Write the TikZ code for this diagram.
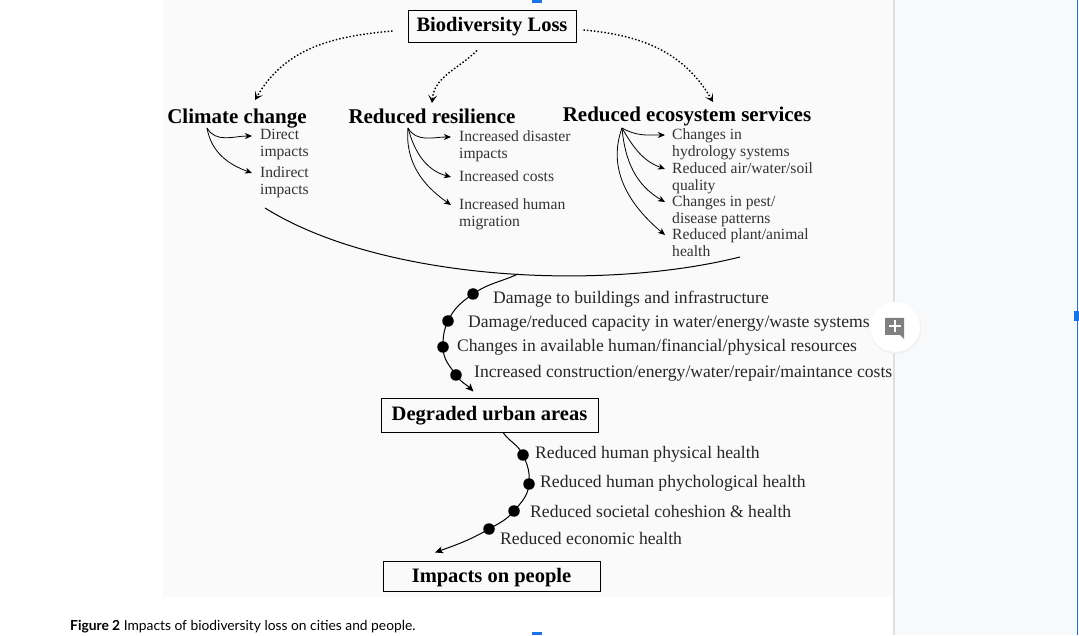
\documentclass[tikz,border=0pt]{standalone}
\usepackage{fontspec}
\setmainfont{Liberation Serif}
\newfontfamily\capfont{Lato}
\usetikzlibrary{arrows.meta}
\definecolor{imgbg}{HTML}{FAFAFA}
\definecolor{panelbg}{HTML}{F8F9FA}
\definecolor{handle}{HTML}{1A73E8}
\begin{document}
\begin{tikzpicture}[
  x=1pt, y=1pt,
  box/.style={draw, line width=0.9pt, inner sep=0pt, text height=14pt, text depth=2pt,
    font=\fontsize{20.5}{22}\selectfont\bfseries},
  header/.style={anchor=base, inner sep=0pt, font=\fontsize{21}{22}\selectfont\bfseries},
  item/.style={anchor=north west, align=left, inner sep=0pt, text=black!80,
    font=\fontsize{15.6}{17}\selectfont},
  effect/.style={anchor=west, inner sep=0pt, text=black!85, font=\fontsize{17.6}{19}\selectfont},
  dot/.style={circle, fill=black, inner sep=0pt, minimum size=11.5pt},
  spread/.style={-{Stealth[length=7pt,width=6pt,inset=2pt]}, line width=0.8pt},
  hint/.style={-{Stealth[length=8pt,width=9pt,inset=4pt]}, line width=1.4pt,
    dash pattern=on 1.5pt off 2pt},
  flow/.style={line width=1pt},
  flowto/.style={flow, -{Stealth[length=8pt,width=7pt,inset=2pt]}}
]
\useasboundingbox (0,0) rectangle (1079,635);
% page, figure and side panel
\fill[white] (0,0) rectangle (1079,635);
\fill[imgbg] (163,38) rectangle (893,635);
\fill[panelbg] (893,0) rectangle (1079,635);
\draw[black!12, line width=2pt] (894,0) -- (894,635);
\fill[handle] (532,632) rectangle (542,635);
\fill[handle] (532,0) rectangle (542,3);
\fill[handle] (1074,314) rectangle (1079,324);
\draw[handle, line width=0.8pt] (1077.5,0) -- (1077.5,635);
% comment button
\fill[black!6] (895.5,306.5) circle (25.5);
\fill[white] (895,308) circle (25);
\fill[black!50] (885,300) rectangle (904,317) -- (904,296) -- (900,300) -- cycle;
\draw[white, line width=2pt] (894.5,302.5) -- (894.5,314.5) (888.5,308.5) -- (900.5,308.5);

% top level
\node[box, minimum width=168pt, minimum height=32pt] (bio) at (492,609) {Biodiversity Loss};
\node[header] (cc) at (237,511) {Climate change};
\node[header] (rr) at (432,511) {Reduced resilience};
\node[header] (res) at (687,513) {Reduced ecosystem services};

\draw[hint] ([xshift=-15pt,yshift=-5pt]bio.west) to[out=185,in=60] ([xshift=18pt,yshift=24pt]cc.base);
\draw[hint] ([xshift=-15pt,yshift=-8pt]bio.south) to[out=225,in=85] ([yshift=21pt]rr.base);
\draw[hint] ([xshift=7pt,yshift=-4pt]bio.east) to[out=-5,in=120] ([xshift=26pt,yshift=20pt]res.base);

% second level
\coordinate (ccsrc) at ([xshift=-30pt,yshift=-4pt]cc.base);
\coordinate (rrsrc) at ([xshift=-24pt,yshift=-4pt]rr.base);
\coordinate (ressrc) at ([xshift=-65pt,yshift=-6pt]res.base);

\node[item] (direct) at (260,506) {Direct\\impacts};
\node[item] (indirect) at (260,469) {Indirect\\impacts};
\node[item] (disaster) at (459,505) {Increased disaster\\impacts};
\node[item] (costs) at (459,465) {Increased costs};
\node[item] (migration) at (459,437) {Increased human\\migration};
\node[item] (hydro) at (672,507) {Changes in\\hydrology systems};
\node[item] (quality) at (672,473) {Reduced air/water/soil\\quality};
\node[item] (pest) at (672,440) {Changes in pest/\\disease patterns};
\node[item] (plant) at (672,407) {Reduced plant/animal\\health};

\foreach \t/\o/\i in {direct/-60/180, indirect/-80/160}
  \draw[spread] (ccsrc) to[out=\o,in=\i] ([xshift=-8pt,yshift=-7pt]\t.north west);
\foreach \t/\o/\i in {disaster/-60/180, costs/-75/165, migration/-95/145}
  \draw[spread] (rrsrc) to[out=\o,in=\i] ([xshift=-8pt,yshift=-7pt]\t.north west);
\foreach \t/\o/\i in {hydro/-30/180, quality/-60/160, pest/-85/150, plant/-110/140}
  \draw[spread] (ressrc) to[out=\o,in=\i] ([xshift=-7pt,yshift=-7pt]\t.north west);

% gathering curve
\coordinate (arcL) at (265,427);
\coordinate (arcR) at (740,378);
\draw[flow] (arcL) .. controls (380,355) and (600,343) .. (arcR);

% urban areas
\node[box, minimum width=217pt, minimum height=34pt] (dua) at (489.5,220) {Degraded urban areas};
\coordinate (fork) at (518,361);
\node[dot] (u1) at (473,341) {};
\node[dot] (u2) at (448,314) {};
\node[dot] (u3) at (443,288) {};
\node[dot] (u4) at (456,260) {};
\draw[flowto] (fork) to[out=205,in=35] (u1.center) to[out=215,in=65] (u2.center)
  to[out=245,in=90] (u3.center) to[out=270,in=125] (u4.center)
  to[out=305,in=135] ([xshift=-16pt,yshift=6pt]dua.north);
\node[effect] (e1) at (493,336) {Damage to buildings and infrastructure};
\node[effect] (e2) at (468,312) {Damage/reduced capacity in water/energy/waste systems};
\node[effect] (e3) at (457,288) {Changes in available human/financial/physical resources};
\node[effect] (e4) at (474,262) {Increased construction/energy/water/repair/maintance costs};

% people
\node[box, minimum width=217pt, minimum height=30pt] (iop) at (491.5,59) {Impacts on people};
\node[dot] (l1) at (523,180) {};
\node[dot] (l2) at (529,151) {};
\node[dot] (l3) at (514,124) {};
\node[dot] (l4) at (489,106) {};
\draw[flowto] ([xshift=13.5pt]dua.south) to[out=305,in=115] (l1.center) to[out=295,in=85] (l2.center)
  to[out=265,in=50] (l3.center) to[out=230,in=30] (l4.center)
  to[out=210,in=20] ([xshift=-56.5pt,yshift=8pt]iop.north);
\node[effect] (h1) at (535,181) {Reduced human physical health};
\node[effect] (h2) at (540,152) {Reduced human phychological health};
\node[effect] (h3) at (530,124) {Reduced societal coheshion \& health};
\node[effect] (h4) at (500,97) {Reduced economic health};

% caption
\node[anchor=west, inner sep=0pt, font=\capfont\fontsize{13.8}{15}\selectfont] (cap) at (70,8)
  {\textbf{Figure 2} Impacts of biodiversity loss on cities and people.};
\end{tikzpicture}
\end{document}
